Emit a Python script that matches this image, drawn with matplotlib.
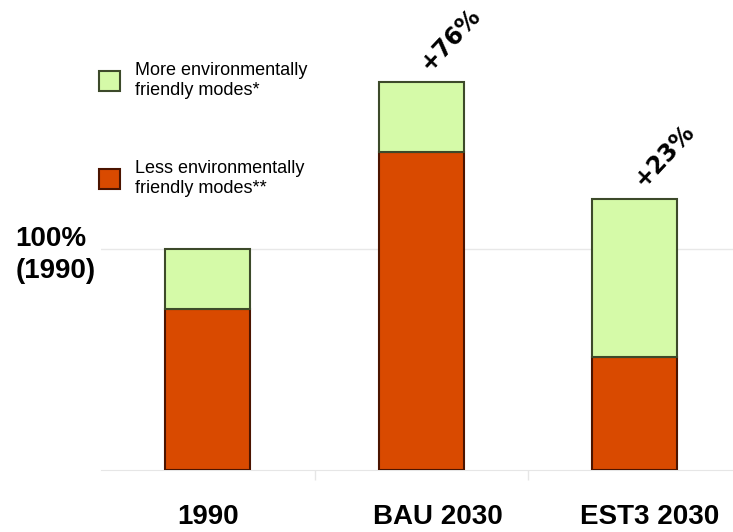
import matplotlib

matplotlib.use("Agg")
import matplotlib.pyplot as plt

plt.rcParams["font.family"] = ["Liberation Sans", "DejaVu Sans"]

# --- data (share of 1990 total = 100) ---
categories = ["1990", "BAU 2030", "EST3 2030"]
less_friendly = [73, 144, 51]
more_friendly = [27, 32, 72]
change_labels = ["", "+76%", "+23%"]
legend_labels = [
    "More environmentally\nfriendly modes*",
    "Less environmentally\nfriendly modes**",
]

green = "#d5faa8"
red = "#d94a00"

fig = plt.figure(figsize=(7.33, 5.32), dpi=100)
ax = fig.add_axes([101 / 733, 1 - 469.5 / 532, 632 / 733, 469.5 / 532])

x = list(range(len(categories)))
totals = [a + b for a, b in zip(less_friendly, more_friendly)]

b_less = ax.bar(x, less_friendly, width=0.4, color=red, edgecolor="#4b1400",
                linewidth=1.5, zorder=3)
b_more = ax.bar(x, more_friendly, bottom=less_friendly, width=0.4, color=green,
                edgecolor="#3d4a2a", linewidth=1.5, zorder=3)

# growth labels, rotated above the 2030 bars
for xi, tot, lab in zip(x, totals, change_labels):
    if lab:
        ax.annotate(lab, (xi, tot), xytext=(21, 31), textcoords="offset points",
                    ha="center", va="center", rotation=47, fontsize=17,
                    fontweight="bold", family="DejaVu Sans")

ax.set_xlim(-0.5, 2.46)
ax.set_ylim(0, 213.2)

# category labels sit slightly right of the bar centres in the original
ax.set_xticks([0, 1.08, 2.07])
ax.set_xticklabels(categories, fontsize=20, fontweight="bold")
ax.tick_params(axis="x", which="major", length=0, pad=24.5)
ax.set_xticks([0.5, 1.5], minor=True)
ax.tick_params(axis="x", which="minor", length=7.5, color="#e6e6e6", width=1)

ax.set_yticks([100])
ax.set_yticklabels(["100%\n(1990)"], fontsize=20, fontweight="bold",
                   multialignment="left", linespacing=1.3)
ax.tick_params(axis="y", length=0, pad=4)
ax.yaxis.grid(True, color="#e8e8e8", linewidth=1, zorder=0)

for side in ("left", "top", "right"):
    ax.spines[side].set_visible(False)
ax.spines["bottom"].set_color("#e6e6e6")

fig.legend([b_more, b_less], legend_labels, loc="upper left",
           bbox_to_anchor=(99 / 733, 1 - 62 / 532), frameon=False,
           fontsize=13, handlelength=1.17, handleheight=1.37,
           handletextpad=0.83, labelspacing=3.4, borderpad=0,
           borderaxespad=0)

fig.savefig("out.png", dpi=100)
